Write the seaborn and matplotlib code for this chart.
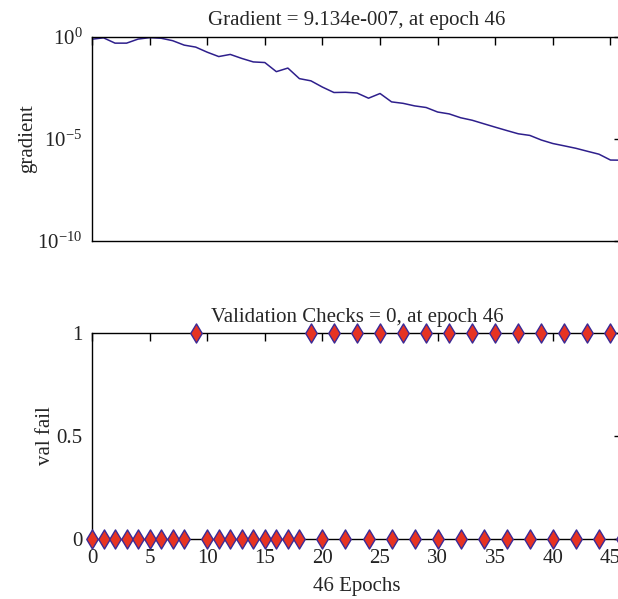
import numpy as np
import pandas as pd
import seaborn as sns
import matplotlib.pyplot as plt

epochs = list(range(47))
gradient = [
    7.8e-01, 9.1e-01, 5.0e-01, 5.0e-01, 7.9e-01, 9.3e-01, 8.7e-01, 6.6e-01,
    4.0e-01, 3.2e-01, 1.8e-01, 1.1e-01, 1.4e-01, 8.9e-02, 6.0e-02, 5.6e-02,
    2.0e-02, 3.0e-02, 9.1e-03, 7.1e-03, 3.5e-03, 1.9e-03, 1.95e-03, 1.8e-03,
    1.0e-03, 1.7e-03, 6.6e-04, 5.6e-04, 4.2e-04, 3.5e-04, 2.1e-04, 1.7e-04,
    1.1e-04, 8.3e-05, 5.6e-05, 3.8e-05, 2.6e-05, 1.8e-05, 1.5e-05, 8.9e-06,
    6.0e-06, 4.6e-06, 3.5e-06, 2.5e-06, 1.8e-06, 9.3e-07, 9.134e-07,
]
val_fail = [
    0, 0, 0, 0, 0, 0, 0, 0, 0, 1, 0, 0, 0, 0, 0, 0, 0, 0, 0, 1, 0, 1, 0, 1,
    0, 1, 0, 1, 0, 1, 0, 1, 0, 1, 0, 1, 0, 1, 0, 1, 0, 1, 0, 1, 0, 1, 0,
]
x_ticks = [0, 5, 10, 15, 20, 25, 30, 35, 40, 45]

df = pd.DataFrame({'epoch': epochs, 'gradient': gradient, 'val_fail': val_fail})

sns.set_theme(style='white')
plt.rcParams['font.family'] = ['Liberation Serif', 'DejaVu Serif']
plt.rcParams['mathtext.fontset'] = 'custom'
plt.rcParams['mathtext.rm'] = 'Liberation Serif'
plt.rcParams['mathtext.it'] = 'Liberation Serif:italic'
plt.rcParams['mathtext.default'] = 'rm'
plt.rcParams['xtick.direction'] = 'in'
plt.rcParams['ytick.direction'] = 'in'

fs = 15

fig = plt.figure(figsize=(6.18, 5.99), dpi=100)
ax1 = fig.add_axes([92 / 618, 1 - 241 / 599, 530 / 618, 204 / 599])
ax2 = fig.add_axes([92 / 618, 1 - 539 / 599, 530 / 618, 206 / 599])

sns.lineplot(data=df, x='epoch', y='gradient', ax=ax1, color='#2e1f8c', linewidth=1.1)
ax1.set_yscale('log')
ax1.set_ylim(1e-10, 1e0)
ax1.set_xlim(0, 46)
ax1.set_yticks([1e-10, 1e-5, 1e0])
ax1.set_yticklabels(['$10^{-10}$', '$10^{-5}$', '$10^{0}$'])
ax1.minorticks_off()
ax1.set_xticks(x_ticks)
ax1.set_xticklabels([])
ax1.set_xlabel('')
ax1.set_ylabel('gradient', fontsize=fs, labelpad=0)
ax1.set_title('Gradient = 9.134e-007, at epoch 46', fontsize=fs, pad=9)

sns.scatterplot(data=df, x='epoch', y='val_fail', ax=ax2, marker='d', s=95,
                color='#e63322', edgecolor='#3b2a96', linewidth=1.0, clip_on=False, zorder=5)
ax2.set_xlim(0, 46)
ax2.set_ylim(0, 1)
ax2.set_xticks(x_ticks)
ax2.set_yticks([0, 0.5, 1])
ax2.set_yticklabels(['0', '0.5', '1'])
ax2.set_xlabel('46 Epochs', fontsize=fs, labelpad=7)
ax2.set_ylabel('val fail', fontsize=fs, labelpad=1)
ax2.set_title('Validation Checks = 0, at epoch 46', fontsize=fs, pad=8)

for ax in (ax1, ax2):
    for s in ax.spines.values():
        s.set_color('black')
        s.set_linewidth(1.0)
    ax.tick_params(axis='both', which='both', top=True, right=True, length=6,
                   width=1, color='black', labelsize=fs, labelcolor='#222222', pad=7)
    ax.set_facecolor('white')

fig.savefig('out.png', dpi=100)
